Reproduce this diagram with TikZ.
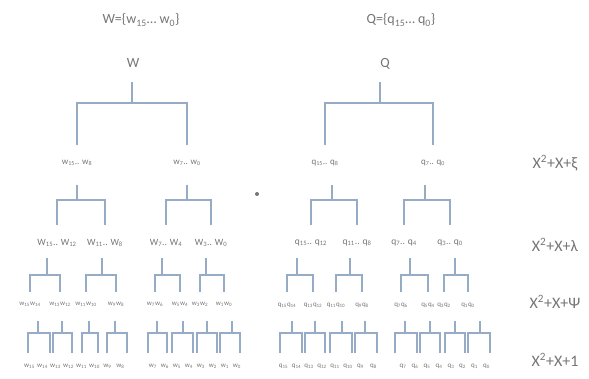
\documentclass[tikz,border=0pt]{standalone}
\usepackage{fontspec}
\setmainfont{Carlito}
\definecolor{tx}{RGB}{118,118,118}
\definecolor{ln}{RGB}{150,172,198}
\newcommand\brk[7]{% parent, dx, childA, childB, y start, y bar, y end
  \path (#1) ++(#2,0) coordinate (stemtop);
  \draw[conn] (stemtop |- 0,#5) -- (stemtop |- 0,#6);
  \draw[conn] (#3 |- 0,#7) -- (#3 |- 0,#6) -- (#4 |- 0,#6) -- (#4 |- 0,#7);
}
\newcommand\s[1]{\textsubscript{#1}}
\begin{document}
\begin{tikzpicture}[x=1pt,y=-1pt,
  every node/.style={text=tx, inner sep=0pt},
  toplbl/.style={font=\fontsize{14}{14}\selectfont},
  lvl0/.style={font=\fontsize{14}{14}\selectfont},
  lvl1/.style={font=\fontsize{9}{9}\selectfont},
  lvl2/.style={font=\fontsize{9.5}{9.5}\selectfont},
  lvl3/.style={font=\fontsize{7}{7}\selectfont},
  eqn/.style={font=\fontsize{16}{16}\selectfont},
  dotn/.style={circle, fill=tx, minimum size=4pt, inner sep=0pt},
  conn/.style={draw=ln, line width=1.2pt}]
\useasboundingbox (0,0) rectangle (589,379);
\fill[white] (0,0) rectangle (589,379);

% top labels
\node[toplbl] (TW) at (141,20) {W=\{w\s{15}… w\s{0}\}};
\node[toplbl] (TQ) at (401,20) {Q=\{q\s{15}… q\s{0}\}};

% level 0
\node[lvl0] (W) at (133,63) {W};
\node[lvl0] (Q) at (385,64) {Q};

% level 1
\node[lvl1] (Wa) at (77,163) {w\s{15}.. w\s{8}};
\node[lvl1] (Wb) at (187,163) {w\s{7}.. w\s{0}};
\node[lvl1] (Qa) at (325,163) {q\s{15}.. q\s{8}};
\node[lvl1] (Qb) at (433,163) {q\s{7}.. q\s{0}};

% level 2
\node[lvl2] (Waa) at (57,243) {W\s{15}.. W\s{12}};
\node[lvl2] (Wab) at (105,243) {W\s{11}.. W\s{8}};
\node[lvl2] (Wba) at (166,243) {W\s{7}.. W\s{4}};
\node[lvl2] (Wbb) at (211,243) {W\s{3}.. W\s{0}};
\node[lvl2] (Qaa) at (311,243) {q\s{15}.. q\s{12}};
\node[lvl2] (Qab) at (357,243) {q\s{11}.. q\s{8}};
\node[lvl2] (Qba) at (404,243) {q\s{7}.. q\s{4}};
\node[lvl2] (Qbb) at (450,243) {q\s{3}.. q\s{0}};

% level 3
\node[lvl3] (W1) at (30,304) {w\s{15}w\s{14}};
\node[lvl3] (W2) at (60,304) {w\s{13}w\s{12}};
\node[lvl3] (W3) at (86,304) {w\s{11}w\s{10}};
\node[lvl3] (W4) at (116,304) {w\s{9}w\s{8}};
\node[lvl3] (W5) at (155,304) {w\s{7}w\s{6}};
\node[lvl3] (W6) at (180,304) {w\s{5}w\s{4}};
\node[lvl3] (W7) at (200,304) {w\s{3}w\s{2}};
\node[lvl3] (W8) at (224,304) {w\s{1}w\s{0}};
\node[lvl3] (Q1) at (287,305) {q\s{15}q\s{14}};
\node[lvl3] (Q2) at (313,305) {q\s{13}q\s{12}};
\node[lvl3] (Q3) at (336,305) {q\s{11}q\s{10}};
\node[lvl3] (Q4) at (362,305) {q\s{9}q\s{8}};
\node[lvl3] (Q5) at (401,305) {q\s{7}q\s{6}};
\node[lvl3] (Q6) at (428,305) {q\s{5}q\s{4}};
\node[lvl3] (Q7) at (444,305) {q\s{3}q\s{2}};
\node[lvl3] (Q8) at (468,305) {q\s{1}q\s{0}};

% level 4 leaves (text)
\foreach \n/\x in {15/29.5,14/42.5,13/55.5,12/68.5,11/81.5,10/94.5,9/107.5,8/120.5,7/153,6/165,5/177,4/189,3/201,2/213,1/225,0/237}
  \node[lvl3] (Lw\n) at (\x,366) {w\s{\n}};
\foreach \n/\x in {15/283.5,14/296.5,13/309,12/322,11/335,10/348,9/360.5,8/373.5,7/403,6/415,5/427,4/439,3/451,2/462.5,1/474.5,0/486.5}
  \node[lvl3] (Lq\n) at (\x,366) {q\s{\n}};

% leaf stem ends
\foreach \i/\x in {1/28,2/50,3/53,4/72,5/82,6/98,7/107,8/127,9/148,10/167,11/172,12/193,13/197,14/217,15/220,16/240}
  \coordinate (sw\i) at (\x,353);
\foreach \i/\x in {1/280,2/302,3/305,4/325,5/330,6/352,7/355,8/377,9/395,10/417,11/420,12/440,13/445,14/465,15/468,16/490}
  \coordinate (sq\i) at (\x,353);

% right labels
\node[eqn] (E1) at (555,163) {X\textsuperscript{2}+X+ξ};
\node[eqn] (E2) at (555,245) {X\textsuperscript{2}+X+λ};
\node[eqn] (E3) at (555,302) {X\textsuperscript{2}+X+Ψ};
\node[eqn] (E4) at (555,360) {X\textsuperscript{2}+X+1};

% multiplication dot
\node[dotn] (dot) at (257,194) {};

% brackets
\brk{W}{-1}{Wa}{Wb}{82}{103}{145}
\brk{Q}{-5}{Qa}{Qb}{82}{103}{145}

\brk{Wa}{0}{Waa}{Wab}{185}{200}{225}
\brk{Wb}{0}{Wba}{Wbb}{185}{200}{225}
\brk{Qa}{7}{Qaa}{Qab}{185}{200}{225}
\brk{Qb}{-8}{Qba}{Qbb}{185}{200}{225}

\brk{Waa}{-10}{W1}{W2}{258}{275}{292}
\brk{Wab}{-3}{W3}{W4}{258}{275}{292}
\brk{Wba}{-4}{W5}{W6}{258}{275}{292}
\brk{Wbb}{-5}{W7}{W8}{258}{275}{292}
\brk{Qaa}{-14}{Q1}{Q2}{258}{275}{292}
\brk{Qab}{-7}{Q3}{Q4}{258}{275}{292}
\brk{Qba}{6}{Q5}{Q6}{258}{275}{292}
\brk{Qbb}{5}{Q7}{Q8}{258}{275}{292}

\brk{W1}{8}{sw1}{sw2}{321}{333}{353}
\brk{W2}{2}{sw3}{sw4}{321}{333}{353}
\brk{W3}{3}{sw5}{sw6}{321}{333}{353}
\brk{W4}{-1}{sw7}{sw8}{321}{333}{353}
\brk{W5}{2}{sw9}{sw10}{321}{333}{353}
\brk{W6}{3}{sw11}{sw12}{321}{333}{353}
\brk{W7}{7}{sw13}{sw14}{321}{333}{353}
\brk{W8}{8}{sw15}{sw16}{321}{333}{353}
\brk{Q1}{5}{sq1}{sq2}{321}{333}{353}
\brk{Q2}{2}{sq3}{sq4}{321}{333}{353}
\brk{Q3}{6}{sq5}{sq6}{321}{333}{353}
\brk{Q4}{3}{sq7}{sq8}{321}{333}{353}
\brk{Q5}{4}{sq9}{sq10}{321}{333}{353}
\brk{Q6}{2}{sq11}{sq12}{321}{333}{353}
\brk{Q7}{11}{sq13}{sq14}{321}{333}{353}
\brk{Q8}{12}{sq15}{sq16}{321}{333}{353}
\end{tikzpicture}
\end{document}
